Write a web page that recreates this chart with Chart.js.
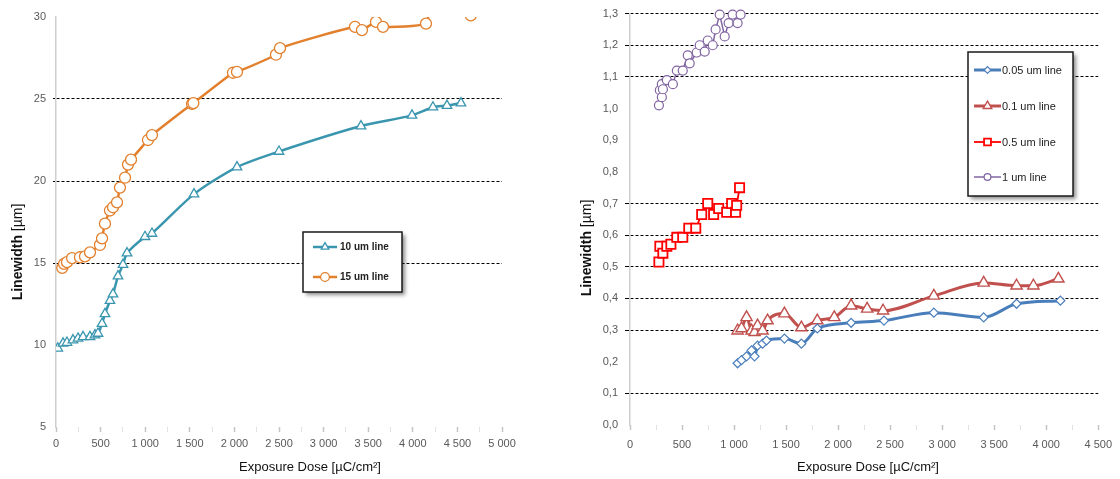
<!DOCTYPE html>
<html>
<head>
<meta charset="utf-8">
<script src="https://cdn.jsdelivr.net/npm/chart.js@4/dist/chart.umd.min.js"></script>
<style>
html,body{margin:0;padding:0;background:#fff;}
#wrap{position:relative;width:1120px;height:479px;overflow:hidden;background:#fff;}
#l{position:absolute;left:0;top:0;width:565px;height:479px;}
#r{position:absolute;left:565px;top:0;width:555px;height:479px;}
</style>
</head>
<body>
<div id="wrap">
  <div id="l"><canvas id="cl"></canvas></div>
  <div id="r"><canvas id="cr"></canvas></div>
</div>
<script>
// ---------------- DATA ----------------
// Left chart: exposure dose (µC/cm²) and linewidth (µm)
const leftSeriesNames = ['10 um line', '15 um line'];
const dose10um  = [20, 79, 123, 190, 247, 303, 381, 437, 471, 516, 549, 605, 639, 695, 751, 796, 998, 1076, 1547, 2029, 2500, 3419, 3991, 4226, 4383, 4540];
const width10um = [9.8, 10.1, 10.15, 10.3, 10.4, 10.5, 10.5, 10.6, 10.7, 11.3, 11.9, 12.7, 13.1, 14.2, 14.9, 15.6, 16.6, 16.8, 19.2, 20.85, 21.8, 23.35, 24.0, 24.5, 24.6, 24.75];
const dose15um  = [70, 90, 123, 180, 269, 325, 381, 493, 516, 549, 605, 639, 684, 717, 774, 807, 841, 1031, 1076, 1525, 1540, 1984, 2029, 2466, 2511, 3352, 3430, 3587, 3666, 4148, 4200, 4650, 4950];
const width15um = [14.7, 14.95, 15.05, 15.3, 15.35, 15.4, 15.65, 16.1, 16.5, 17.4, 18.2, 18.4, 18.7, 19.6, 20.2, 21.0, 21.3, 22.5, 22.8, 24.7, 24.75, 26.6, 26.65, 27.7, 28.1, 29.4, 29.2, 29.7, 29.4, 29.6, 30.4, 30.1, 30.4];

// Right chart
const rightSeriesNames = ['0.05 um line', '0.1 um line', '0.5 um line', '1 um line'];
const dose005  = [1034, 1072, 1120, 1168, 1197, 1226, 1274, 1312, 1484, 1647, 1800, 2125, 2441, 2920, 3399, 3715, 4136];
const width005 = [0.195, 0.205, 0.217, 0.236, 0.217, 0.251, 0.257, 0.267, 0.273, 0.257, 0.305, 0.323, 0.33, 0.355, 0.34, 0.383, 0.393];
const dose01   = [1034, 1072, 1120, 1168, 1197, 1226, 1274, 1322, 1484, 1647, 1800, 1963, 2125, 2279, 2432, 2920, 3399, 3715, 3877, 4117];
const width01  = [0.298, 0.305, 0.34, 0.298, 0.293, 0.314, 0.298, 0.33, 0.352, 0.308, 0.33, 0.34, 0.377, 0.367, 0.361, 0.408, 0.449, 0.44, 0.44, 0.462];
const dose05   = [278, 287, 316, 354, 393, 450, 507, 565, 632, 689, 747, 804, 852, 929, 977, 1015, 1025, 1053];
const width05  = [0.515, 0.565, 0.543, 0.565, 0.571, 0.593, 0.593, 0.622, 0.622, 0.665, 0.70, 0.665, 0.684, 0.672, 0.70, 0.672, 0.694, 0.75];
const dose1    = [278, 287, 306, 306, 316, 354, 412, 450, 507, 555, 574, 641, 670, 718, 747, 795, 823, 862, 910, 948, 986, 1034, 1063];
const width1   = [1.01, 1.058, 1.036, 1.077, 1.061, 1.09, 1.077, 1.12, 1.12, 1.168, 1.143, 1.177, 1.2, 1.18, 1.215, 1.2, 1.25, 1.297, 1.228, 1.27, 1.297, 1.27, 1.297];

// Axis tick settings
const leftXMin = 0, leftXMax = 5000, leftYMin = 5, leftYMax = 30, leftYStep = 5;
const rightXMin = 0, rightXMax = 4500, rightYMin = 0, rightYMax = 1.3, rightYStep = 0.1;
const xMajorStep = 500, xMinorStep = 250;
const leftGridValues = [15, 20, 25];
const rightGridValues = [1.3, 1.2, 1.1, 0.7, 0.6, 0.5, 0.4, 0.3, 0.1];

const xTitleText = 'Exposure Dose [µC/cm²]';
const yTitleBold = 'Linewidth ';
const yTitleRest = '[µm]';

// ---------------- HELPERS ----------------
const FONT = '"Liberation Sans", Arial, Helvetica, sans-serif';
Chart.defaults.font.family = FONT;
const toPts = (xs, ys) => xs.map((x, i) => ({x: x, y: ys[i]}));
const fmtThousands = v => {
  const s = Math.round(v).toString();
  return s.length > 3 ? s.slice(0, -3) + ' ' + s.slice(-3) : s;
};

function drawMarker(ctx, style, x, y, r, fill, stroke, bw) {
  ctx.beginPath();
  if (style === 'circle') {
    ctx.arc(x, y, r, 0, Math.PI * 2);
  } else if (style === 'triangle') {
    for (let k = 0; k < 3; k++) {
      const a = k * 2 * Math.PI / 3;
      const px = x + Math.sin(a) * r, py = y - Math.cos(a) * r;
      if (k === 0) ctx.moveTo(px, py); else ctx.lineTo(px, py);
    }
    ctx.closePath();
  } else if (style === 'rect') {
    const s = Math.SQRT1_2 * r;
    ctx.rect(x - s, y - s, 2 * s, 2 * s);
  } else if (style === 'rectRot') {
    ctx.moveTo(x - r, y); ctx.lineTo(x, y - r); ctx.lineTo(x + r, y); ctx.lineTo(x, y + r);
    ctx.closePath();
  }
  ctx.fillStyle = fill; ctx.fill();
  ctx.lineWidth = bw; ctx.strokeStyle = stroke; ctx.stroke();
}

const overlayPlugin = {
  id: 'overlay',
  afterDraw(chart, args, o) {
    const ctx = chart.ctx;
    ctx.save();
    // X title
    ctx.fillStyle = '#111';
    ctx.font = '13px ' + FONT;
    ctx.textAlign = 'center';
    ctx.textBaseline = 'middle';
    ctx.fillText(xTitleText, o.xTitle.x, o.xTitle.y);
    // Y title (rotated)
    ctx.save();
    ctx.translate(o.yTitle.x, o.yTitle.y);
    ctx.rotate(-Math.PI / 2);
    ctx.font = 'bold 14px ' + FONT;
    const w1 = ctx.measureText(yTitleBold).width;
    ctx.font = '14px ' + FONT;
    const w2 = ctx.measureText(yTitleRest).width;
    const start = -(w1 + w2) / 2;
    ctx.textAlign = 'left';
    ctx.font = 'bold 14px ' + FONT;
    ctx.fillText(yTitleBold, start, 0);
    ctx.font = '14px ' + FONT;
    ctx.fillText(yTitleRest, start + w1, 0);
    ctx.restore();

    // Legend box
    const L = o.legend;
    ctx.save();
    ctx.shadowColor = 'rgba(0,0,0,0.45)';
    ctx.shadowBlur = 4;
    ctx.shadowOffsetX = 3;
    ctx.shadowOffsetY = 3;
    ctx.fillStyle = '#fff';
    ctx.fillRect(L.x, L.y, L.w, L.h);
    ctx.restore();
    ctx.lineWidth = 1.5;
    ctx.strokeStyle = '#1a1a1a';
    ctx.strokeRect(L.x, L.y, L.w, L.h);
    chart.data.datasets.forEach((ds, i) => {
      const y = L.rows[i];
      ctx.beginPath();
      ctx.moveTo(L.sx1, y); ctx.lineTo(L.sx2, y);
      ctx.lineWidth = ds.borderWidth; ctx.strokeStyle = ds.borderColor;
      ctx.stroke();
      drawMarker(ctx, ds.pointStyle, (L.sx1 + L.sx2) / 2, y, ds.pointRadius * L.mScale, '#fff', ds.pointBorderColor, ds.pointBorderWidth);
      ctx.fillStyle = '#222';
      ctx.font = L.font;
      ctx.textAlign = 'left';
      ctx.textBaseline = 'middle';
      ctx.fillText(ds.label, L.tx, y + 0.5);
    });
    ctx.restore();
  }
};

function xAxis(min, max, labelPad, afterH) {
  return {
    type: 'linear', min: min, max: max,
    afterFit: s => { s.height = afterH; },
    ticks: {
      stepSize: xMinorStep, autoSkip: false, maxRotation: 0, minRotation: 0,
      padding: labelPad, color: '#595959', font: {size: 11},
      callback: v => (Math.round(v) % xMajorStep === 0 ? fmtThousands(v) : '')
    },
    grid: {
      drawOnChartArea: false, drawTicks: true, tickLength: 5,
      tickColor: c => (Math.round(c.tick.value) % xMajorStep === 0 ? '#c4c4c4' : '#e2e2e2'),
      tickWidth: c => (Math.round(c.tick.value) % xMajorStep === 0 ? 1.5 : 1)
    },
    border: {display: false}
  };
}

// ---------------- LEFT CHART ----------------
new Chart(document.getElementById('cl'), {
  type: 'line',
  data: {
    datasets: [
      {
        label: leftSeriesNames[0], data: toPts(dose10um, width10um),
        borderColor: '#3A96AF', borderWidth: 2.5, tension: 0.25,
        pointStyle: 'triangle', pointRadius: 5.5, pointBorderWidth: 1.3,
        pointBackgroundColor: '#fff', pointBorderColor: '#3A96AF',
        clip: {left: 0, top: 0, right: 8, bottom: 8}
      },
      {
        label: leftSeriesNames[1], data: toPts(dose15um, width15um),
        borderColor: '#E2802E', borderWidth: 2.5, tension: 0.25,
        pointStyle: 'circle', pointRadius: 5.5, pointBorderWidth: 1.3,
        pointBackgroundColor: '#fff', pointBorderColor: '#E2802E',
        clip: {left: 0, top: 0, right: 8, bottom: 8}
      }
    ]
  },
  options: {
    responsive: true, maintainAspectRatio: false, animation: false,
    layout: {padding: {left: 0, top: 17, right: 63, bottom: 22}},
    plugins: {
      legend: {display: false}, tooltip: {enabled: false},
      overlay: {
        xTitle: {x: 310, y: 467},
        yTitle: {x: 18, y: 252},
        legend: {x: 303, y: 232, w: 99, h: 60, rows: [247, 277], sx1: 313, sx2: 337, tx: 340, mScale: 0.8, font: 'bold 10px ' + FONT}
      }
    },
    scales: {
      x: xAxis(leftXMin, leftXMax, 5, 30),
      y: {
        type: 'linear', min: leftYMin, max: leftYMax,
        afterFit: s => { s.width = 56; },
        ticks: {stepSize: leftYStep, padding: 7, color: '#595959', font: {size: 11}},
        grid: {
          color: c => (leftGridValues.includes(Math.round(c.tick.value)) ? '#000' : 'rgba(0,0,0,0)'),
          lineWidth: 1, tickLength: 3
        },
        border: {display: true, color: '#cfcfcf', width: 1.5, dash: [3, 2]}
      }
    }
  },
  plugins: [overlayPlugin]
});

// ---------------- RIGHT CHART ----------------
new Chart(document.getElementById('cr'), {
  type: 'line',
  data: {
    datasets: [
      {
        label: rightSeriesNames[0], data: toPts(dose005, width005),
        borderColor: '#4A7EBB', borderWidth: 3, cubicInterpolationMode: 'monotone',
        pointStyle: 'rectRot', pointRadius: 4.5, pointBorderWidth: 1.2,
        pointBackgroundColor: '#fff', pointBorderColor: '#4A7EBB', clip: false
      },
      {
        label: rightSeriesNames[1], data: toPts(dose01, width01),
        borderColor: '#C0504D', borderWidth: 3, cubicInterpolationMode: 'monotone',
        pointStyle: 'triangle', pointRadius: 6.5, pointBorderWidth: 1.4,
        pointBackgroundColor: '#fff', pointBorderColor: '#C0504D', clip: false
      },
      {
        label: rightSeriesNames[2], data: toPts(dose05, width05),
        borderColor: '#FF0000', borderWidth: 1.8, tension: 0,
        pointStyle: 'rect', pointRadius: 6.5, pointBorderWidth: 1.8,
        pointBackgroundColor: '#fff', pointBorderColor: '#FF0000', clip: false
      },
      {
        label: rightSeriesNames[3], data: toPts(dose1, width1),
        borderColor: '#8064A2', borderWidth: 1.5, tension: 0,
        pointStyle: 'circle', pointRadius: 4.5, pointBorderWidth: 1.2,
        pointBackgroundColor: '#fff', pointBorderColor: '#8064A2', clip: false
      }
    ]
  },
  options: {
    responsive: true, maintainAspectRatio: false, animation: false,
    layout: {padding: {left: 0, top: 11, right: 20, bottom: 24}},
    plugins: {
      legend: {display: false}, tooltip: {enabled: false},
      overlay: {
        xTitle: {x: 303, y: 467},
        yTitle: {x: 22, y: 248},
        legend: {x: 403, y: 52, w: 105, h: 144, rows: [70, 106, 142, 177], sx1: 409, sx2: 436, tx: 437, mScale: 0.75, font: '11px ' + FONT}
      }
    },
    scales: {
      x: xAxis(rightXMin, rightXMax, 8, 30),
      y: {
        type: 'linear', min: rightYMin, max: rightYMax,
        afterFit: s => { s.width = 65; },
        ticks: {
          stepSize: rightYStep, padding: 7, color: '#595959', font: {size: 11},
          callback: v => v.toFixed(1).replace('.', ',')
        },
        grid: {
          color: c => (rightGridValues.some(g => Math.round(g * 10) === Math.round(c.tick.value * 10)) ? '#000' : 'rgba(0,0,0,0)'),
          lineWidth: 1, tickLength: 5
        },
        border: {display: true, color: '#cfcfcf', width: 1.5, dash: [3, 2]}
      }
    }
  },
  plugins: [overlayPlugin]
});
</script>
</body>
</html>
